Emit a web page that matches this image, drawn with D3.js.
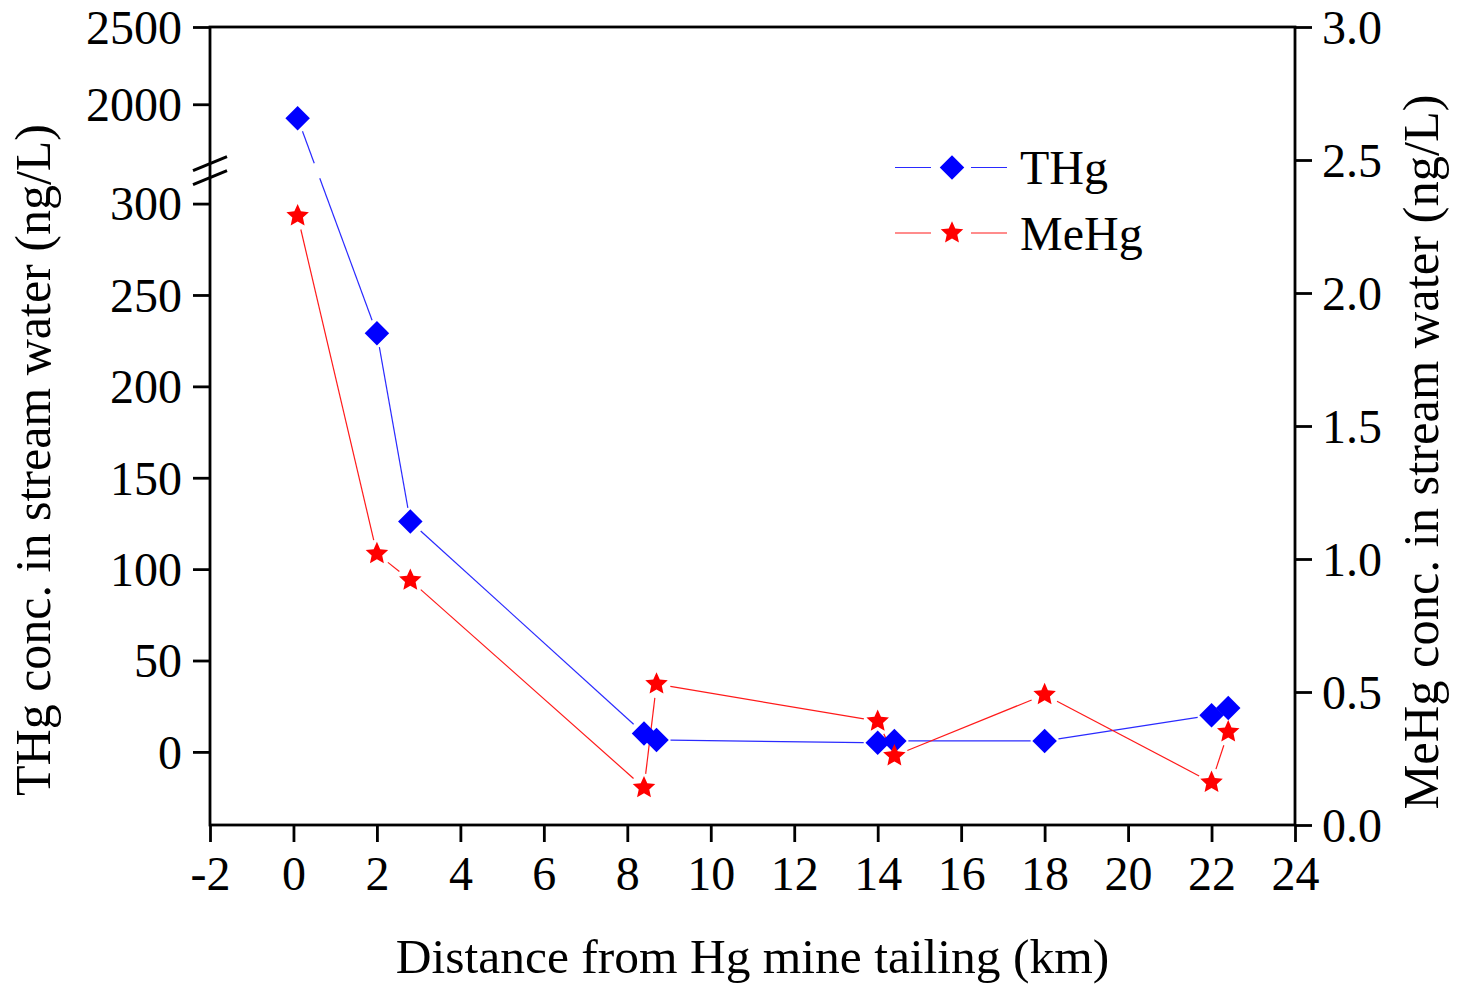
<!DOCTYPE html>
<html>
<head>
<meta charset="utf-8">
<script src="https://cdn.jsdelivr.net/npm/d3@7"></script>
<style>
  html, body { margin: 0; padding: 0; background: #fff; }
  svg text { font-family: "Liberation Serif", "Times New Roman", serif; fill: #000; }
</style>
</head>
<body>
<svg id="chart" width="1457" height="984"></svg>
<script>
// Distance downstream of the tailing (km)
const distance = [0.1, 2.0, 2.8, 8.4, 8.7, 14.0, 14.4, 18.0, 22.0, 22.4];
// Total Hg in stream water (ng/L), left axis
const thg = [1910, 229, 126, 10, 6.5, 5, 6, 6, 20, 24];
// Methyl Hg in stream water (ng/L), right axis
const mehg = [2.29, 1.02, 0.92, 0.14, 0.53, 0.39, 0.26, 0.49, 0.16, 0.35];

const xTicks = [-2, 0, 2, 4, 6, 8, 10, 12, 14, 16, 18, 20, 22, 24];
const leftTicks = [0, 50, 100, 150, 200, 250, 300, 2000, 2500];
const rightTicks = [0, 0.5, 1.0, 1.5, 2.0, 2.5, 3.0];
// Broken left axis: lower segment and upper segment
const lowerSeg = [-40, 318];
const upperSeg = [1570, 2500];

const margin = { left: 210, top: 27, right: 1457 - 1295, bottom: 984 - 825 };
const W = 1457 - margin.left - margin.right;
const H = 984 - margin.top - margin.bottom;
const yBreak = 143.7; // break position from the top of the plot

const svg = d3.select("#chart");
const g = svg.append("g").attr("transform", `translate(${margin.left},${margin.top})`);

const x = d3.scaleLinear().domain([-2, 24]).range([0, W]);
const yL = d3.scaleLinear()
  .domain([lowerSeg[0], lowerSeg[1], upperSeg[0], upperSeg[1]])
  .range([H, yBreak, yBreak, 0]);
const yR = d3.scaleLinear().domain([0, 3]).range([H, 0]);

const FS_TICK = 48, TICK = 17;
const plain = d => String(d); // hyphen-minus, as printed on the axis

// Bottom axis
const xAxis = g.append("g").attr("transform", `translate(0,${H})`)
  .call(d3.axisBottom(x).tickValues(xTicks).tickSize(TICK).tickSizeOuter(0).tickFormat(plain));
xAxis.select(".domain").remove();
xAxis.selectAll(".tick text").attr("y", 0).attr("dy", 65).style("font-size", FS_TICK + "px");

// Left axis
const lAxis = g.append("g")
  .call(d3.axisLeft(yL).tickValues(leftTicks).tickSize(TICK).tickSizeOuter(0).tickPadding(11).tickFormat(plain));
lAxis.select(".domain").remove();
lAxis.selectAll(".tick text").attr("dy", "0.34em").style("font-size", FS_TICK + "px");

// Right axis
const rAxis = g.append("g").attr("transform", `translate(${W},0)`)
  .call(d3.axisRight(yR).tickValues(rightTicks).tickSize(TICK).tickSizeOuter(0).tickPadding(10).tickFormat(d3.format(".1f")));
rAxis.select(".domain").remove();
rAxis.selectAll(".tick text").attr("dy", "0.34em").style("font-size", FS_TICK + "px");

svg.selectAll(".tick line").attr("stroke", "#000").attr("stroke-width", 2.8);

// Plot frame
g.append("rect").attr("x", 0).attr("y", 0).attr("width", W).attr("height", H)
  .attr("fill", "none").attr("stroke", "#000").attr("stroke-width", 2.8);

// Axis break marks
[-7, 7].forEach(off => {
  g.append("line")
    .attr("x1", -17).attr("y1", yBreak + off + 7)
    .attr("x2", 17).attr("y2", yBreak + off - 7)
    .attr("stroke", "#000").attr("stroke-width", 3);
});

// Connecting lines with small gaps at the markers (and at the axis break)
const GAP = 14;
function segments(pts, breakY) {
  const out = [];
  for (let i = 0; i < pts.length - 1; i++) {
    const [x0, y0] = pts[i], [x1, y1] = pts[i + 1];
    const dx = x1 - x0, dy = y1 - y0, d = Math.hypot(dx, dy);
    if (d <= 2 * GAP) continue;
    const ux = dx / d, uy = dy / d;
    const a = [x0 + ux * GAP, y0 + uy * GAP], b = [x1 - ux * GAP, y1 - uy * GAP];
    if (breakY != null && (y0 - breakY) * (y1 - breakY) < 0) {
      const t1 = (breakY - 7.5 - y0) / dy, t2 = (breakY + 7.5 - y0) / dy;
      const ta = Math.min(t1, t2), tb = Math.max(t1, t2);
      out.push([a, [x0 + dx * ta, y0 + dy * ta]]);
      out.push([[x0 + dx * tb, y0 + dy * tb], b]);
    } else {
      out.push([a, b]);
    }
  }
  return out;
}

// Five-pointed star with a fairly full body
const starShape = {
  draw(ctx, size) {
    const R = Math.sqrt(size) * 0.5, r = R * 0.47;
    for (let k = 0; k < 10; k++) {
      const rad = k % 2 ? r : R;
      const a = -Math.PI / 2 + k * Math.PI / 5;
      const px = rad * Math.cos(a), py = rad * Math.sin(a);
      if (k === 0) ctx.moveTo(px, py); else ctx.lineTo(px, py);
    }
    ctx.closePath();
  }
};

const thgPts = distance.map((d, i) => [x(d), yL(thg[i])]);
const mehgPts = distance.map((d, i) => [x(d), yR(mehg[i])]);

const series = [
  { name: "THg", pts: thgPts, color: "#0000ff", lineColor: "#2a2aff", brk: yBreak,
    symbol: d3.symbol().type(d3.symbolSquare).size(300), rot: 45 },
  { name: "MeHg", pts: mehgPts, color: "#ff0000", lineColor: "#ff1a1a", brk: null,
    symbol: d3.symbol().type(starShape).size(560), rot: 0 }
];

series.forEach(s => {
  g.append("g").selectAll("line").data(segments(s.pts, s.brk)).join("line")
    .attr("x1", d => d[0][0]).attr("y1", d => d[0][1])
    .attr("x2", d => d[1][0]).attr("y2", d => d[1][1])
    .attr("stroke", s.lineColor).attr("stroke-width", 1.2);
});
series.forEach(s => {
  g.append("g").selectAll("path").data(s.pts).join("path")
    .attr("d", s.symbol)
    .attr("transform", d => `translate(${d[0]},${d[1]}) rotate(${s.rot})`)
    .attr("fill", s.color);
});

// Legend
const legend = svg.append("g");
const legRows = [167.5, 233];
series.forEach((s, i) => {
  const y = legRows[i];
  legend.append("line").attr("x1", 895).attr("x2", 931).attr("y1", y).attr("y2", y)
    .attr("stroke", s.lineColor).attr("stroke-width", 1.1);
  legend.append("line").attr("x1", 971).attr("x2", 1007).attr("y1", y).attr("y2", y)
    .attr("stroke", s.lineColor).attr("stroke-width", 1.1);
  legend.append("path").attr("d", s.symbol)
    .attr("transform", `translate(952,${y}) rotate(${s.rot})`).attr("fill", s.color);
  legend.append("text").attr("x", 1020).attr("y", y).attr("dy", "0.35em")
    .style("font-size", "48px").text(s.name);
});

// Axis titles
svg.append("text").attr("x", margin.left + W / 2).attr("y", 973)
  .attr("text-anchor", "middle").style("font-size", "49.5px")
  .text("Distance from Hg mine tailing (km)");
svg.append("text").attr("transform", "translate(50,460) rotate(-90)")
  .attr("text-anchor", "middle").style("font-size", "50px")
  .text("THg conc. in stream water (ng/L)");
svg.append("text").attr("transform", "translate(1438,452) rotate(-90)")
  .attr("text-anchor", "middle").style("font-size", "50.5px")
  .text("MeHg conc. in stream water (ng/L)");
</script>
</body>
</html>
